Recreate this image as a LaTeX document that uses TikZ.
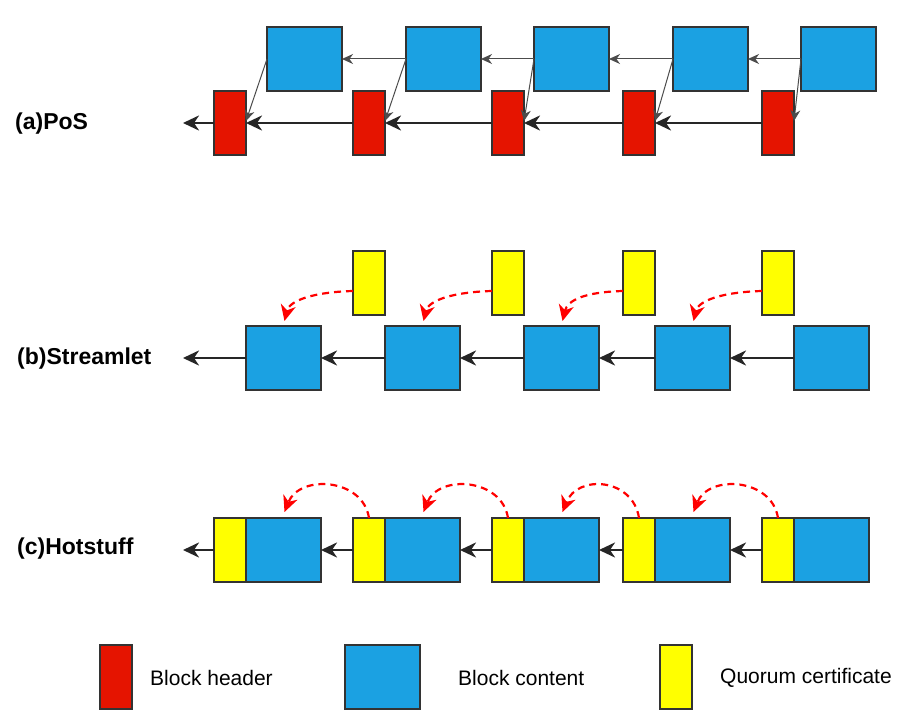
\documentclass[tikz,border=0pt]{standalone}
\usepackage{fontspec}
\setmainfont{Liberation Sans}
\usetikzlibrary{arrows.meta,calc}
\definecolor{hdr}{HTML}{E51400}
\definecolor{cnt}{HTML}{1BA1E2}
\definecolor{qc}{HTML}{FFFF00}
\definecolor{edge}{HTML}{333333}
\begin{document}
\begin{tikzpicture}[x=1pt,y=-1pt,
  box/.style={draw=edge, line width=1.2pt, inner sep=0pt, outer sep=0pt, anchor=north west},
  hdrbox/.style={box, fill=hdr, minimum width=32pt, minimum height=64pt},
  cntbox/.style={box, fill=cnt, minimum width=75pt, minimum height=64pt},
  qcbox/.style={box, fill=qc, minimum width=32pt, minimum height=64pt},
  chainarr/.style={draw=black!85, line width=2.6pt, -{Stealth[length=16pt,width=15pt,inset=5pt]}},
  linkarr/.style={draw=black!70, line width=1pt, -{Stealth[length=11pt,width=10pt,inset=3.5pt]}},
  certarr/.style={draw=red, line width=2.2pt, dash pattern=on 7pt off 5pt, -{Stealth[length=16pt,width=15pt,inset=5pt]}},
  lbl/.style={font=\fontsize{23}{27}\selectfont\bfseries, anchor=west, inner sep=0pt},
  legtxt/.style={font=\fontsize{21}{25}\selectfont, anchor=west, inner sep=0pt}]
\fill[white] (0,0) rectangle (899,722);
\path[use as bounding box] (0,0) rectangle (899,722);

% ---------- (a) PoS ----------
\node[lbl] (la) at (15,124) {(a)PoS};
\foreach \i/\x in {1/214,2/353,3/492,4/623,5/762}{\node[hdrbox] (r\i) at (\x,91) {};}
\foreach \i/\x in {1/267,2/406,3/534,4/673,5/801}{\node[cntbox] (a\i) at (\x,27) {};}
\coordinate (a0) at (183,123);
\draw[chainarr] (r1.west) -- (a0);
\foreach \i/\j in {2/1,3/2,4/3,5/4}{
  \draw[chainarr] (r\i.west) -- (r\j.east);
  \draw[linkarr] (a\i.west) -- (a\j.east);
}
\foreach \i in {1,...,5}{\draw[linkarr] (a\i.west) -- ($(r\i.east)+(0,-2)$);}

% ---------- (b) Streamlet ----------
\node[lbl] (lb) at (17,359) {(b)Streamlet};
\foreach \i/\x in {1/246,2/385,3/524,4/655,5/794}{\node[cntbox] (s\i) at (\x,326) {};}
\foreach \i/\x in {1/353,2/492,3/623,4/762}{\node[qcbox] (q\i) at (\x,251) {};}
\coordinate (b0) at (183,358);
\draw[chainarr] (s1.west) -- (b0);
\foreach \i/\j in {2/1,3/2,4/3,5/4}{\draw[chainarr] (s\i.west) -- (s\j.east);}
\foreach \i in {1,...,4}{
  \draw[certarr] ($(q\i.north west)+(0,40)$) .. controls +(-38,1) and +(5,-21) .. ($(s\i.north)+(1,-5)$);
}

% ---------- (c) Hotstuff ----------
\node[lbl] (lc) at (17,549) {(c)Hotstuff};
\foreach \i/\x in {1/214,2/353,3/492,4/623,5/762}{
  \node[qcbox] (h\i) at (\x,518) {};
  \node[cntbox] (c\i) at (\x+32,518) {};
}
\coordinate (c0) at (183,550);
\draw[chainarr] (h1.west) -- (c0);
\foreach \i/\j in {2/1,3/2,4/3,5/4}{
  \draw[chainarr] (h\i.west) -- (c\j.east);
  \draw[certarr] (h\i.north) .. controls +(-6,-40) and +(15,-38) .. ($(c\j.north)+(1,-6)$);
}

% ---------- legend ----------
\node[hdrbox] (k1) at (100,645) {};
\node[legtxt] (t1) at (150,678) {Block header};
\node[cntbox] (k2) at (345,645) {};
\node[legtxt] (t2) at (458,678) {Block content};
\node[qcbox] (k3) at (660,645) {};
\node[legtxt] (t3) at (720,678) {Quorum certificate};
\end{tikzpicture}
\end{document}
